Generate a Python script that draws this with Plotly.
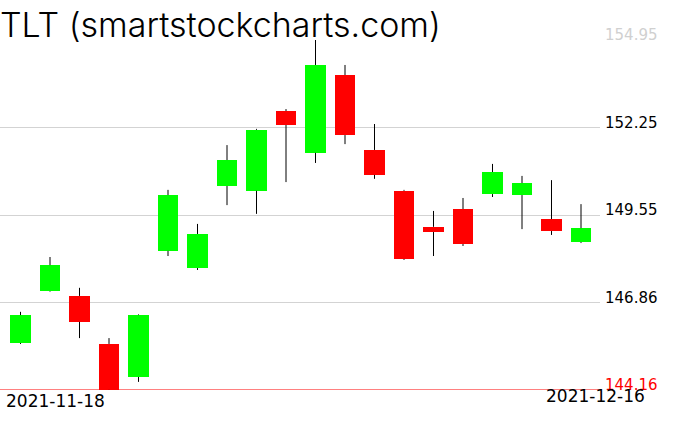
import plotly.graph_objects as go

dates = ["2021-11-18", "2021-11-19", "2021-11-22", "2021-11-23", "2021-11-24",
         "2021-11-26", "2021-11-29", "2021-11-30", "2021-12-01", "2021-12-02",
         "2021-12-03", "2021-12-06", "2021-12-07", "2021-12-08", "2021-12-09",
         "2021-12-10", "2021-12-13", "2021-12-14", "2021-12-15", "2021-12-16"]
opens = [145.61, 147.21, 147.06, 145.58, 144.56, 148.45, 147.92, 150.45, 150.30, 152.76,
         151.47, 153.87, 151.56, 150.30, 149.19, 149.74, 150.20, 150.17, 149.43, 148.72]
highs = [146.57, 148.26, 147.31, 145.76, 146.49, 150.33, 149.28, 151.71, 152.21, 152.82,
         154.95, 154.18, 152.36, 150.33, 149.68, 150.08, 151.13, 150.76, 150.63, 149.89]
lows = [145.58, 147.19, 145.76, 144.16, 144.41, 148.29, 147.86, 149.86, 149.59, 150.57,
        151.16, 151.74, 150.67, 148.17, 148.29, 148.60, 150.11, 149.12, 148.94, 148.69]
closes = [146.47, 148.01, 146.26, 144.17, 146.47, 150.17, 148.97, 151.25, 152.18, 152.33,
          154.18, 152.02, 150.79, 148.20, 149.03, 148.66, 150.88, 150.54, 149.06, 149.15]
tick_values = [144.16, 146.86, 149.55, 152.25, 154.95]
tick_colors = ["#ff0000", "#000000", "#000000", "#000000", "#d0d0d0"]
title_text = "TLT (smartstockcharts.com)"

UP = "#00ff00"
DOWN = "#ff0000"

body_base = [min(o, c) for o, c in zip(opens, closes)]
body_len = [abs(c - o) for o, c in zip(opens, closes)]
body_col = [UP if c >= o else DOWN for o, c in zip(opens, closes)]

wx, wy = [], []
for d, o, h, l, c in zip(dates, opens, highs, lows, closes):
    wx += [d, d, None, d, d, None]
    wy += [h, max(o, c), None, min(o, c), l, None]

fig = go.Figure()
fig.add_trace(go.Bar(x=dates, y=body_len, base=body_base, width=0.71,
                     marker=dict(color=body_col, line=dict(width=0)),
                     hoverinfo="skip", showlegend=False))
fig.add_trace(go.Scatter(x=wx, y=wy, mode="lines", connectgaps=False,
                         line=dict(color="black", width=1),
                         hoverinfo="skip", showlegend=False))

fig.add_shape(type="line", xref="paper", x0=0, x1=1, yref="y",
              y0=tick_values[0], y1=tick_values[0],
              line=dict(color="#ff0000", width=1))

fig.add_annotation(text=dates[0], xref="paper", yref="paper", x=4 / 600, y=-0.031,
                   xanchor="left", yanchor="middle", showarrow=False,
                   font=dict(family="DejaVu Sans", size=17, color="black"))
fig.add_annotation(text=dates[-1], xref="paper", yref="paper", x=647 / 600, y=-0.018,
                   xanchor="right", yanchor="middle", showarrow=False,
                   font=dict(family="DejaVu Sans", size=17, color="black"))

fig.update_layout(
    width=676, height=431,
    margin=dict(l=0, r=76, t=40, b=41),
    paper_bgcolor="white", plot_bgcolor="white",
    title=dict(text=title_text, x=0, xref="paper", xanchor="left",
               y=1 - 25 / 431, yref="container", yanchor="middle",
               font=dict(family="Inter", size=34, color="black", weight=300)),
    xaxis=dict(type="category", range=[-0.695, 19.644], showticklabels=False,
               showgrid=False, zeroline=False, showline=False, ticks=""),
    yaxis=dict(side="right", range=[tick_values[0], tick_values[-1]],
               tickmode="array", tickvals=tick_values,
               ticktext=[f"<span style='color:{col}'>{v:.2f}</span>"
                         for v, col in zip(tick_values, tick_colors)],
               showgrid=True, gridcolor="#d3d3d3", gridwidth=1,
               zeroline=False, showline=False, ticks="",
               ticklabelshift=-5, ticklabelstandoff=4,
               tickfont=dict(family="DejaVu Sans", size=15, color="black")),
    bargap=0, showlegend=False,
)

fig.write_html("out.html", config={"displayModeBar": False, "staticPlot": True},
               post_script="document.body.style.margin='0';")
